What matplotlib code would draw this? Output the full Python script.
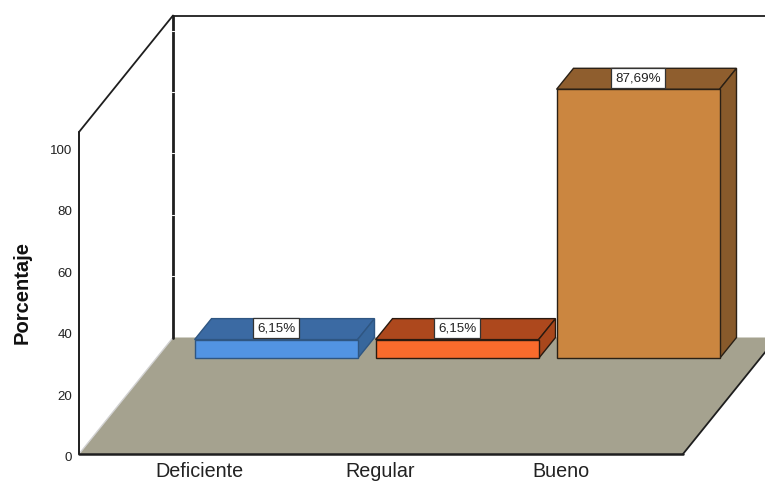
import matplotlib
matplotlib.use("Agg")
import matplotlib.pyplot as plt
from matplotlib.patches import Polygon
from matplotlib.transforms import ScaledTranslation

plt.rcParams["font.family"] = ["Liberation Sans", "DejaVu Sans"]

# Data
categories = ["Deficiente", "Regular", "Bueno"]
percentages = [6.15, 6.15, 87.69]
value_labels = ["6,15%", "6,15%", "87,69%"]
y_ticks = [0, 20, 40, 60, 80, 100]

# Face colours for each bar: front, top, side, outline
front_colors = ["#5294E3", "#F96B2C", "#CB8640"]
top_colors = ["#3B6AA3", "#AD481D", "#8F5E2E"]
side_colors = ["#38679C", "#A8471C", "#885A2B"]
edge_colors = ["#2F5682", "#2A1A10", "#2A2015"]
floor_color = "#A5A28F"

W, H = 765, 482
AX_L, AX_R, AX_T, AX_B = 79, 765, 132, 454   # axes box, in pixels
CAT_STEP = 181.0                             # pixels between categories
CAT0 = 199.0                                 # pixel of the first category
PCT = 3.07                                   # pixels per percentage point
DEPTH_X, DEPTH_Y = 94.0, 116.5               # pixel shift of the back of the floor
BAR_WIDTH = 163 / CAT_STEP
BAR_Z0, BAR_Z1 = 0.82, 1.0                   # depth range occupied by the bars

fig = plt.figure(figsize=(W / 100, H / 100), dpi=100, facecolor="white")
ax = fig.add_axes([AX_L / W, 1 - AX_B / H, (AX_R - AX_L) / W, (AX_B - AX_T) / H])
ax.patch.set_visible(False)
ax.set_xlim((AX_L - CAT0) / CAT_STEP, (AX_R - CAT0) / CAT_STEP)
ax.set_ylim(0, (AX_B - AX_T) / PCT)
y_top = ax.get_ylim()[1]


def proj(x, y, z):
    """Oblique projection of (category, percent, depth) to axes data."""
    return (x + z * DEPTH_X / CAT_STEP, y + z * DEPTH_Y / PCT)


def poly(points, face, edge="none", lw=0.0, z=2):
    ax.add_patch(Polygon([proj(*p) for p in points], closed=True, facecolor=face,
                         edgecolor=edge, linewidth=lw, clip_on=False, zorder=z,
                         joinstyle="miter"))


def line(a, b, color="#1E1E1E", lw=1.5, z=3):
    pa, pb = proj(*a), proj(*b)
    ax.plot([pa[0], pb[0]], [pa[1], pb[1]], color=color, lw=lw, zorder=z,
            clip_on=False, solid_capstyle="round")


x0 = ax.get_xlim()[0]
x_floor_right = (683 - CAT0) / CAT_STEP
x_far = x0 + 1.2 * (AX_R - AX_L) / CAT_STEP

# Floor with its edges
poly([(x0, 0, 0), (x_floor_right, 0, 0), (x_floor_right, 0, 1), (x0, 0, 1)], floor_color)
line((x0, 0, 0), (x0, 0, 1), color="#D2D2D2", lw=1.0)
line((x0, 0, 0), (x_floor_right, 0, 0), lw=1.8)
line((x_floor_right, 0, 0), (x_floor_right, 0, 1), lw=1.3)

# Back wall: vertical line, top line and the left side of the box
line((x0, 0, 1), (x0, y_top, 1), lw=2.0)
line((x0, y_top, 1), (x_far, y_top, 1), lw=1.3)
line((x0, y_top, 0), (x0, y_top, 1), lw=1.3)
line((x0, 0, 0), (x0, y_top, 0), lw=1.4)

# White notches on the back wall at each tick value
for t in y_ticks[1:]:
    line((x0 - 0.006, t, 1), (x0 + 0.006, t, 1), color="white", lw=0.8, z=4)

# Bars
for i, val in enumerate(percentages):
    xl = i - BAR_WIDTH / 2
    xr = i + BAR_WIDTH / 2
    edge = edge_colors[i]
    poly([(xl, val, BAR_Z0), (xr, val, BAR_Z0), (xr, val, BAR_Z1), (xl, val, BAR_Z1)],
         top_colors[i], edge, 1.0, z=5)
    poly([(xr, 0, BAR_Z0), (xr, 0, BAR_Z1), (xr, val, BAR_Z1), (xr, val, BAR_Z0)],
         side_colors[i], edge, 1.0, z=5)
    poly([(xl, 0, BAR_Z0), (xr, 0, BAR_Z0), (xr, val, BAR_Z0), (xl, val, BAR_Z0)],
         front_colors[i], edge, 1.0, z=6)
    cx, cy = proj(i, val, BAR_Z0)
    ax.annotate(value_labels[i], (cx, cy), xytext=(0, 8.0), textcoords="offset points",
                ha="center", va="center", fontsize=9.6, color="#222222", zorder=8,
                annotation_clip=False,
                bbox=dict(boxstyle="square,pad=0.3", fc="white", ec="#333333", lw=0.9))

# Axes furniture
for s in ax.spines.values():
    s.set_visible(False)
ax.set_yticks(y_ticks)
ax.set_yticklabels([str(t) for t in y_ticks], fontsize=9.6, color="#222222")
ax.tick_params(axis="y", length=2, width=0.8, color="white", direction="inout", pad=4, zorder=5)
for lbl in ax.get_yticklabels():
    lbl.set_transform(lbl.get_transform() + ScaledTranslation(0, -2.5 / 100, fig.dpi_scale_trans))
ax.set_xticks(range(len(categories)))
ax.set_xticklabels(categories, fontsize=14.2, color="#222222")
ax.tick_params(axis="x", length=0, pad=5.5)
fig.text(22 / W, 1 - 292.5 / H, "Porcentaje", rotation=90, ha="center", va="center",
         fontsize=14.5, fontweight="bold", color="#111111")

fig.savefig("out.png", dpi=100)
